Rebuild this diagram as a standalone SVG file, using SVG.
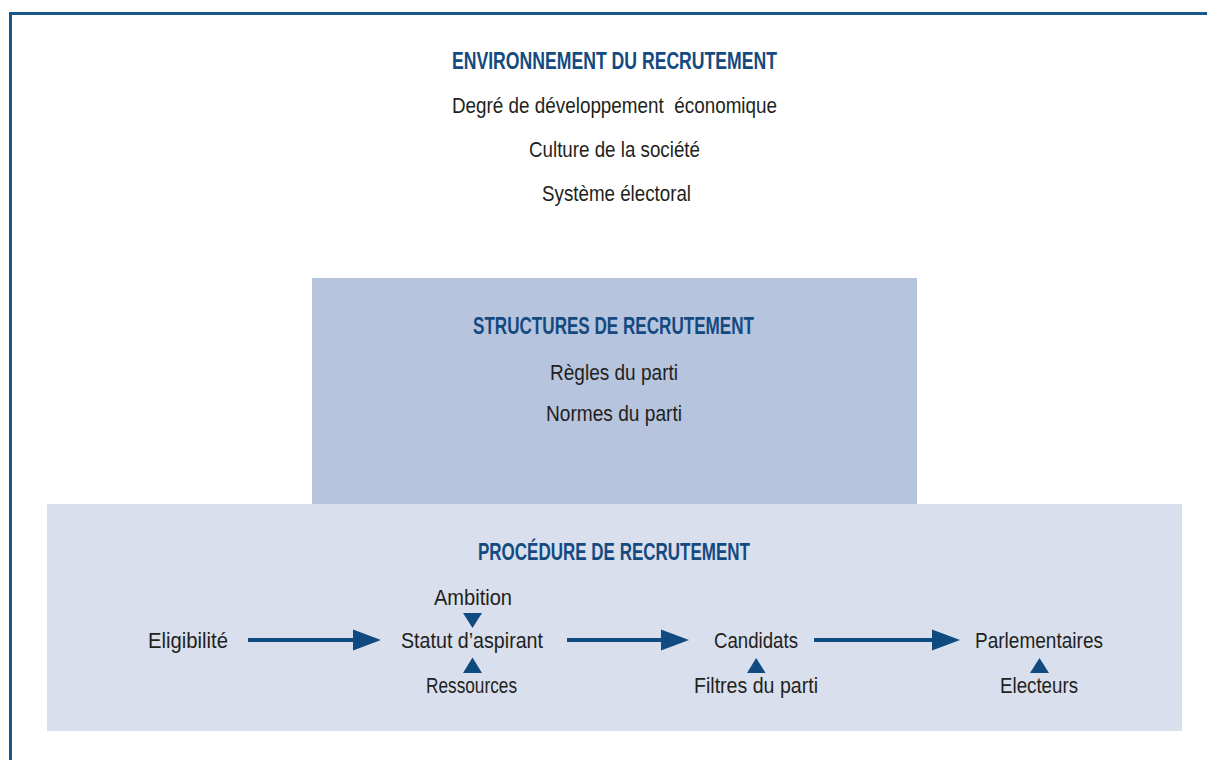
<svg xmlns="http://www.w3.org/2000/svg" width="1207" height="760" viewBox="0 0 1207 760">
<defs>
<style>
.t{font-family:"Liberation Sans Narrow","Liberation Sans",Arial,sans-serif;font-size:22px;fill:#231f20;text-anchor:middle}
.h{font-family:"Liberation Sans Narrow","Liberation Sans",Arial,sans-serif;font-size:24px;font-weight:bold;fill:#144a80;text-anchor:middle}
.ln{stroke:#0f4a80;stroke-width:4;fill:none}
.hd{fill:#0f4a80}
</style>
</defs>
<rect width="1207" height="760" fill="#ffffff"/>
<path d="M10.5 760 V13.5 H1207" fill="none" stroke="#17578c" stroke-width="3"/>
<g id="environnement">
<text class="h" x="614.5" y="69" textLength="325" lengthAdjust="spacingAndGlyphs">ENVIRONNEMENT DU RECRUTEMENT</text>
<text class="t" x="614.5" y="112.5" textLength="325" lengthAdjust="spacingAndGlyphs" xml:space="preserve">Degré de développement  économique</text>
<text class="t" x="614.5" y="157" textLength="171" lengthAdjust="spacingAndGlyphs">Culture de la société</text>
<text class="t" x="616.5" y="201" textLength="149" lengthAdjust="spacingAndGlyphs">Système électoral</text>
</g>
<g id="structures">
<rect x="312" y="278" width="605" height="226" fill="#b7c4dd"/>
<text class="h" x="613.5" y="334.3" textLength="281" lengthAdjust="spacingAndGlyphs">STRUCTURES DE RECRUTEMENT</text>
<text class="t" x="614" y="380" textLength="128" lengthAdjust="spacingAndGlyphs">Règles du parti</text>
<text class="t" x="614" y="421" textLength="136" lengthAdjust="spacingAndGlyphs">Normes du parti</text>
</g>
<g id="procedure">
<rect x="47" y="504" width="1135" height="227" fill="#d9dfed"/>
<text class="h" x="614" y="560" textLength="272" lengthAdjust="spacingAndGlyphs">PROCÉDURE DE RECRUTEMENT</text>
</g>
<g id="eligibilite"><text class="t" x="188" y="648.3" textLength="80" lengthAdjust="spacingAndGlyphs">Eligibilité</text></g>
<g id="ambition"><text class="t" x="473" y="605" textLength="78" lengthAdjust="spacingAndGlyphs">Ambition</text></g>
<g id="statut"><text class="t" x="472" y="648.3" textLength="142" lengthAdjust="spacingAndGlyphs">Statut d’aspirant</text></g>
<g id="ressources"><text class="t" x="471.5" y="692.7" textLength="91" lengthAdjust="spacingAndGlyphs">Ressources</text></g>
<g id="candidats"><text class="t" x="756" y="648.3" textLength="84" lengthAdjust="spacingAndGlyphs">Candidats</text></g>
<g id="filtres"><text class="t" x="756" y="692.7" textLength="124" lengthAdjust="spacingAndGlyphs">Filtres du parti</text></g>
<g id="parlementaires"><text class="t" x="1039" y="648.3" textLength="128" lengthAdjust="spacingAndGlyphs">Parlementaires</text></g>
<g id="electeurs"><text class="t" x="1039" y="692.7" textLength="78" lengthAdjust="spacingAndGlyphs">Electeurs</text></g>
<g id="connectors">
<line class="ln" x1="248" y1="640" x2="356" y2="640"/>
<path class="hd" d="M353 629.5 L381 640 L353 650.5 Z"/>
<line class="ln" x1="567" y1="640" x2="664" y2="640"/>
<path class="hd" d="M661 629.5 L689 640 L661 650.5 Z"/>
<line class="ln" x1="814" y1="640" x2="935" y2="640"/>
<path class="hd" d="M932 629.5 L960 640 L932 650.5 Z"/>
<path class="hd" d="M463 613 L482 613 L472.5 628 Z"/>
<path class="hd" d="M463 673 L482 673 L472.5 657.5 Z"/>
<path class="hd" d="M747 673 L765.5 673 L756.2 658 Z"/>
<path class="hd" d="M1030 673 L1049 673 L1039.5 658 Z"/>
</g>
</svg>
